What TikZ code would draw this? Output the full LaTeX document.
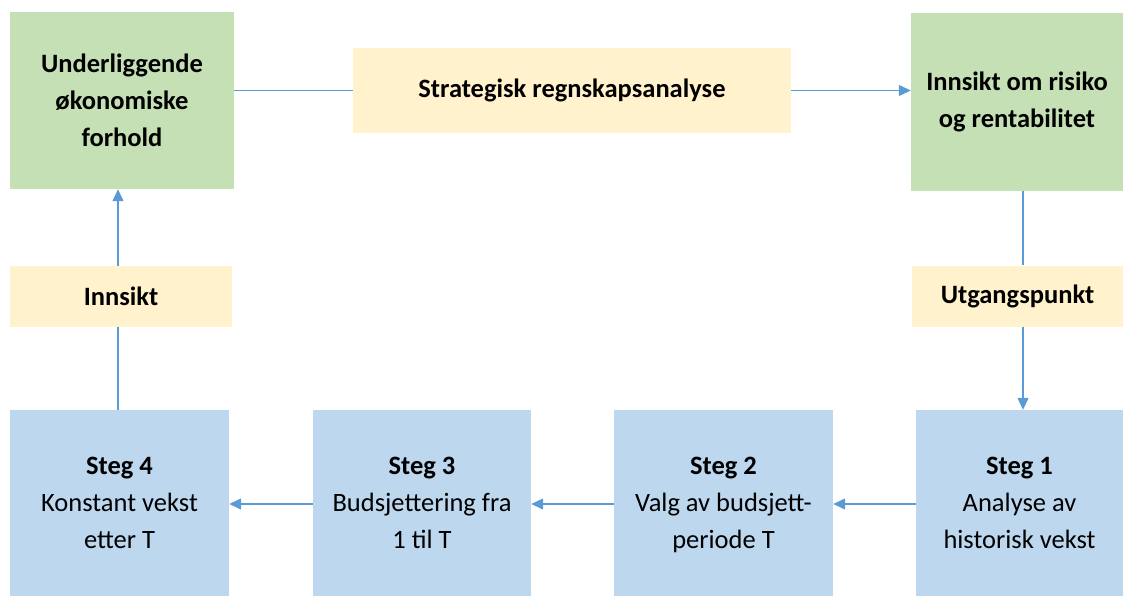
\documentclass[tikz,border=0pt]{standalone}
\usepackage{fontspec}
\setmainfont{Carlito}
\usetikzlibrary{arrows.meta}
\definecolor{boxgreen}{HTML}{C5E0B4}
\definecolor{boxyellow}{HTML}{FFF2CC}
\definecolor{boxblue}{HTML}{BDD7EE}
\definecolor{linkblue}{HTML}{5B9BD5}
\begin{document}
\begin{tikzpicture}[x=1pt,y=-1pt,
  base/.style={inner sep=0pt, align=center, font=\fontsize{26.5}{37}\selectfont},
  greenbox/.style={base, fill=boxgreen, font=\fontsize{26.5}{37}\selectfont\bfseries},
  yellowbox/.style={base, fill=boxyellow, font=\fontsize{26.5}{37}\selectfont\bfseries},
  stepbox/.style={base, fill=boxblue, text depth=0pt, minimum width=218pt, minimum height=186pt},
  link/.style={draw=linkblue, line width=1.3pt},
  arrowlink/.style={link, -{Triangle[length=12pt,width=11pt]}, shorten >=0pt}
]
\useasboundingbox (0,0) rectangle (1123,596);

% top row
\node[greenbox, minimum width=224pt, minimum height=177pt] (econ) at (122,100.5)
  {Underliggende\\økonomiske\\forhold};
\node[yellowbox, minimum width=438pt, minimum height=85pt] (strat) at (572,90.5)
  {Strategisk regnskapsanalyse};
\node[greenbox, minimum width=212pt, minimum height=178pt] (insight) at (1017,102)
  {Innsikt om risiko\\og rentabilitet};

% side labels
\node[yellowbox, minimum width=222pt, minimum height=61pt] (innsikt) at (121,296.5)
  {Innsikt};
\node[yellowbox, minimum width=211pt, minimum height=61pt] (start) at (1017.5,296)
  {Utgangspunkt};

% bottom row of steps
\node[stepbox, minimum width=219pt] (s4) at (119.5,503)
  {\textbf{Steg 4}\\Konstant vekst\\etter T};
\node[stepbox, minimum width=218pt] (s3) at (422,503)
  {\textbf{Steg 3}\\Budsjettering fra\\1 til T};
\node[stepbox, minimum width=219pt] (s2) at (723.5,503)
  {\textbf{Steg 2}\\Valg av budsjett-\\periode T};
\node[stepbox, minimum width=207pt] (s1) at (1019.5,503)
  {\textbf{Steg 1}\\Analyse av\\historisk vekst};

% guide positions for the connectors
\coordinate (rx) at (1023,0);
\coordinate (lx) at (118,0);
\coordinate (by) at (0,504);

% connectors
\draw[link] (strat.west) -- (strat.west -| econ.east);
\draw[arrowlink] (strat.east) -- (strat.east -| insight.west);
\draw[link] (insight.south -| rx) -- (start.north -| rx);
\draw[arrowlink] (start.south -| rx) -- (s1.north -| rx);
\draw[arrowlink] (s1.west |- by) -- (s2.east |- by);
\draw[arrowlink] (s2.west |- by) -- (s3.east |- by);
\draw[arrowlink] (s3.west |- by) -- (s4.east |- by);
\draw[link] (s4.north -| lx) -- (innsikt.south -| lx);
\draw[arrowlink] (innsikt.north -| lx) -- (econ.south -| lx);
\end{tikzpicture}
\end{document}
